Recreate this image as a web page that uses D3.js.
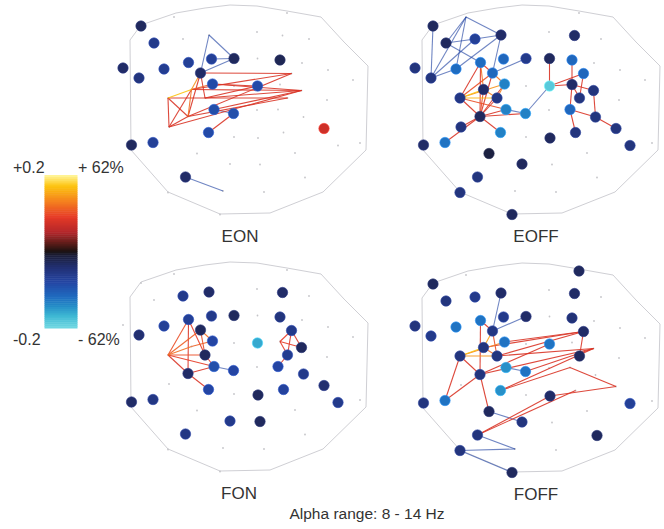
<!DOCTYPE html>
<html>
<head>
<meta charset="utf-8">
<script src="https://cdn.jsdelivr.net/npm/d3@7/dist/d3.min.js"></script>
<style>
  body { margin: 0; background: #fff; }
  text { font-family: "Liberation Sans", Arial, sans-serif; fill: #333; }
</style>
</head>
<body>
<div id="chart"></div>
<script>
// electrode positions on the sensor plane (id = index + 1)
let sensorX = [141, 154, 183, 209, 123, 139, 164, 188.5, 200.5, 211.5,
  234, 257.5, 282.5, 280, 212.5, 191.5, 168, 205, 214, 233.5,
  257.5, 280, 291.5, 301.5, 287.5, 278, 303.5, 324, 188, 169,
  208.5, 258, 283.5, 131.5, 153, 338, 197, 230, 185.5, 168,
  220, 260, 305, 287, 174, 223, 257, 309, 302, 328,
  353, 327, 257, 234, 360, 295, 264, 234];
let sensorY = [26, 43, 39, 35, 68, 78, 69, 62.5, 73, 59,
  58.5, 58.5, 35.5, 60, 84, 89.5, 98, 98, 109.5, 113.5,
  86, 84.5, 73.5, 90.5, 98, 109.5, 117, 128.5, 116.5, 127,
  132.5, 138, 132.5, 145, 142.5, 145.5, 153.5, 164, 177, 192.5,
  214.5, 164.5, 177.5, 13, 17, 191, 32, 39, 63, 70,
  80, 100, 110, 137, 143, 153, 192, 86];

// head outline
let outlineX = [130, 141, 176, 205, 230, 257, 287, 321, 344, 368, 366, 323, 270, 220, 168, 131];
let outlineY = [40, 25, 13, 8, 5, 6, 11, 17, 42, 66, 150, 192, 213, 214, 192, 150];

let panelNames = ["EON", "EOFF", "FON", "FOFF"];

// nodes : electrode ids and their value
let eonIds = [1, 2, 5, 6, 7, 8, 10, 11, 14, 9, 15, 21, 19, 20, 31, 34, 35, 39, 28];
let eonVals = [-0.03, -0.06, -0.035, -0.05, -0.065, -0.07, -0.07, -0.03, -0.025, -0.035,
  -0.085, -0.085, -0.09, -0.09, -0.085, -0.03, -0.07, -0.035, 0.07];

let eoffIds = [1, 2, 3, 4, 5, 6, 7, 8, 9, 10, 11, 12, 13, 14, 15, 16, 17, 18, 19, 20, 21,
  22, 23, 24, 25, 26, 27, 28, 29, 30, 31, 32, 33, 34, 35, 36, 37, 38, 39, 40, 41];
let eoffVals = [-0.03, -0.03, -0.07, -0.035, -0.05, -0.05, -0.12, -0.12, -0.115, -0.115,
  -0.06, -0.03, -0.035, -0.115, -0.135, -0.035, -0.055, -0.055, -0.135, -0.135,
  -0.185, -0.035, -0.115, -0.05, -0.05, -0.115, -0.05, -0.05, -0.03, -0.05,
  -0.135, -0.03, -0.05, -0.035, -0.125, -0.05, -0.015, -0.03, -0.05, -0.05, -0.03];

let fonIds = [3, 4, 13, 8, 10, 11, 14, 7, 6, 9, 15, 23, 21, 24, 18, 25, 19, 20, 26, 27,
  29, 28, 31, 32, 33, 34, 35, 36, 38, 42, 39];
let fonVals = [-0.06, -0.035, -0.035, -0.07, -0.06, -0.03, -0.05, -0.07, -0.04, -0.03,
  -0.08, -0.06, -0.16, -0.03, -0.03, -0.065, -0.09, -0.08, -0.08, -0.06,
  -0.035, -0.04, -0.08, -0.03, -0.075, -0.035, -0.055, -0.06, -0.06, -0.03, -0.055];

let foffIds = [1, 44, 2, 3, 4, 13, 5, 6, 7, 8, 10, 11, 14, 9, 15, 23, 21, 16, 17, 18,
  25, 19, 20, 29, 31, 32, 34, 35, 36, 37, 38, 43, 39, 40, 41];
let foffVals = [-0.03, -0.03, -0.05, -0.06, -0.035, -0.035, -0.05, -0.06, -0.125, -0.125,
  -0.06, -0.035, -0.045, -0.055, -0.125, -0.035, -0.125, -0.05, -0.05, -0.05,
  -0.03, -0.145, -0.125, -0.05, -0.145, -0.035, -0.05, -0.125, -0.07, -0.03,
  -0.05, -0.03, -0.05, -0.05, -0.03];

// links : [electrode a, electrode b, value]
let eonEdges = [[4, 11, -0.08], [4, 9, -0.08], [10, 11, -0.08], [9, 11, -0.08], [39, 46, -0.08], [19, 20, -0.08],
  [17, 16, 0.17], [17, 18, 0.08], [17, 30, 0.08], [17, 29, 0.08], [30, 16, 0.08], [30, 29, 0.08],
  [29, 16, 0.12], [29, 9, 0.08], [16, 9, 0.14], [18, 9, 0.08], [16, 23, 0.08], [16, 24, 0.08],
  [18, 24, 0.08], [29, 23, 0.08], [29, 25, 0.08], [30, 24, 0.08], [9, 23, 0.08], [15, 24, 0.08],
  [15, 21, 0.08], [18, 25, 0.08], [19, 24, 0.08], [31, 20, 0.08], [16, 15, 0.11], [18, 21, 0.08]];

let eoffEdges = [[45, 2, -0.08], [45, 6, -0.08], [45, 4, -0.08], [45, 7, -0.08], [1, 6, -0.08],
  [2, 3, -0.08], [2, 8, -0.08], [6, 7, -0.08], [7, 4, -0.08], [6, 3, -0.08], [3, 4, -0.08],
  [4, 9, -0.08], [9, 11, -0.08], [19, 20, -0.08], [20, 21, -0.08],
  [12, 21, 0.08], [21, 22, 0.08], [21, 23, 0.08], [14, 22, 0.08], [22, 26, 0.08], [22, 24, 0.08],
  [23, 25, 0.08], [22, 25, 0.08], [26, 27, 0.08], [24, 27, 0.08], [27, 28, 0.08], [33, 26, 0.08],
  [8, 16, 0.12], [8, 29, 0.08], [9, 29, 0.08], [15, 17, 0.14], [15, 29, 0.08], [16, 17, 0.17],
  [17, 18, 0.16], [17, 29, 0.08], [17, 19, 0.1], [18, 29, 0.08], [16, 18, 0.13], [29, 19, 0.08],
  [29, 20, 0.08], [29, 30, 0.08], [29, 35, 0.08], [29, 31, 0.08], [9, 15, 0.12], [8, 9, 0.09],
  [16, 29, 0.1], [8, 17, 0.08], [15, 18, 0.13], [9, 17, 0.1]];

let fonEdges = [[17, 8, 0.1], [17, 9, 0.11], [17, 16, 0.12], [17, 18, 0.1], [17, 29, 0.08], [17, 19, 0.09],
  [8, 29, 0.08], [8, 18, 0.09], [9, 15, 0.12], [9, 18, 0.1], [16, 15, 0.11], [18, 19, 0.09],
  [29, 31, 0.08], [29, 19, 0.08], [19, 20, -0.08],
  [22, 23, 0.09], [22, 25, 0.09], [22, 24, 0.09], [23, 25, 0.08], [25, 26, 0.08], [23, 24, 0.08]];

let foffEdges = [[4, 9, -0.08], [11, 9, -0.08], [37, 38, -0.08], [39, 46, -0.08], [40, 46, -0.08],
  [40, 41, -0.08], [19, 20, -0.08],
  [39, 32, 0.08], [39, 33, 0.08], [26, 28, 0.08], [32, 28, 0.08], [31, 26, 0.08], [16, 23, 0.08],
  [18, 23, 0.08], [29, 24, 0.08], [18, 24, 0.08], [20, 24, 0.08], [31, 24, 0.08], [29, 21, 0.08],
  [15, 23, 0.08], [17, 35, 0.08], [29, 35, 0.08], [29, 37, 0.08], [8, 9, 0.08], [8, 29, 0.08],
  [9, 18, 0.1], [16, 17, 0.17], [17, 18, 0.14], [15, 17, 0.13], [16, 18, 0.12], [17, 29, 0.08],
  [9, 16, 0.15], [23, 25, 0.08]];

// colormap
let cmapStops = [-0.2, -0.17, -0.14, -0.12, -0.08, -0.04, -0.01, 0, 0.02, 0.05, 0.09, 0.13, 0.17, 0.2];
let cmapColors = ["#72d8e2", "#3fbad4", "#2388c6", "#1f6cc0", "#2445a3", "#222f70", "#1b1e38",
  "#1a1210", "#5a1c18", "#b3262a", "#e63a26", "#f4801f", "#fdc20c", "#fff7a0"];

let width = 664, height = 529;
let panelShiftX = [0, 292, 0, 292];
let panelShiftY = [0, 0, 257, 258];
let labelX = [240, 536, 239, 536];
let labelY = [242, 242, 499, 500];

let panelIds = [eonIds, eoffIds, fonIds, foffIds];
let panelVals = [eonVals, eoffVals, fonVals, foffVals];
let panelEdges = [eonEdges, eoffEdges, fonEdges, foffEdges];

let color = d3.scaleLinear()
  .domain(cmapStops)
  .range(cmapColors)
  .clamp(true);

let svg = d3.select("#chart")
  .append("svg")
  .attr("width", width)
  .attr("height", height);

panelNames.forEach(function(name, p) {
  let x = d3.scaleLinear().domain([100, 400]).range([100 + panelShiftX[p], 400 + panelShiftX[p]]);
  let y = d3.scaleLinear().domain([0, 220]).range([panelShiftY[p], 220 + panelShiftY[p]]);
  let g = svg.append("g").attr("class", "panel");

  // contour de la tete
  let outline = outlineX.map(function(d, i) { return [x(d), y(outlineY[i])]; });
  g.append("path")
    .attr("d", d3.line().curve(d3.curveLinearClosed)(outline))
    .attr("fill", "none")
    .attr("stroke", "#cfcfd4")
    .attr("stroke-width", 1);

  // electrodes without a node
  let active = panelIds[p];
  let empty = d3.range(1, sensorX.length + 1).filter(function(id) { return active.indexOf(id) < 0; });
  g.append("g")
    .selectAll("circle")
    .data(empty)
    .enter()
    .append("circle")
    .attr("cx", function(d) { return x(sensorX[d - 1]); })
    .attr("cy", function(d) { return y(sensorY[d - 1]); })
    .attr("r", 0.9)
    .attr("fill", "#c4c4c8");

  // liens
  g.append("g")
    .selectAll("line")
    .data(panelEdges[p].slice().sort(function(a, b) { return Math.abs(a[2]) - Math.abs(b[2]); }))
    .enter()
    .append("line")
    .attr("x1", function(d) { return x(sensorX[d[0] - 1]); })
    .attr("y1", function(d) { return y(sensorY[d[0] - 1]); })
    .attr("x2", function(d) { return x(sensorX[d[1] - 1]); })
    .attr("y2", function(d) { return y(sensorY[d[1] - 1]); })
    .attr("stroke", function(d) { return color(d[2]); })
    .attr("stroke-opacity", function(d) { return d[2] < 0 ? 0.65 : 0.9; })
    .attr("stroke-width", 1.1);

  // noeuds
  g.append("g")
    .selectAll("circle")
    .data(active)
    .enter()
    .append("circle")
    .attr("cx", function(d) { return x(sensorX[d - 1]); })
    .attr("cy", function(d) { return y(sensorY[d - 1]); })
    .attr("r", 5.2)
    .attr("fill", function(d, i) { return color(panelVals[p][i]); })
    .attr("stroke", function(d, i) { return d3.color(color(panelVals[p][i])).brighter(0.7); })
    .attr("stroke-width", 0.6);

  g.append("text")
    .attr("x", labelX[p])
    .attr("y", labelY[p])
    .attr("text-anchor", "middle")
    .attr("font-size", 17)
    .text(name);
});

// colorbar
let cbY = d3.scaleLinear().domain([0.2, -0.2]).range([175, 328]);
let steps = d3.range(0, 80).map(function(i) { return 0.2 - i * 0.4 / 80; });
svg.append("g")
  .selectAll("rect")
  .data(steps)
  .enter()
  .append("rect")
  .attr("x", 44.5)
  .attr("y", function(d) { return cbY(d); })
  .attr("width", 33)
  .attr("height", cbY(0) - cbY(0.4 / 80) + 0.5)
  .attr("fill", function(d) { return color(d - 0.0025); });

svg.append("text").attr("x", 13).attr("y", 173).attr("font-size", 16).text("+0.2");
svg.append("text").attr("x", 78).attr("y", 173).attr("font-size", 16).text("+ 62%");
svg.append("text").attr("x", 13).attr("y", 345).attr("font-size", 16).text("-0.2");
svg.append("text").attr("x", 78).attr("y", 345).attr("font-size", 16).text("- 62%");

svg.append("text")
  .attr("x", 367)
  .attr("y", 519)
  .attr("text-anchor", "middle")
  .attr("font-size", 15.5)
  .text("Alpha range: 8 - 14 Hz");
</script>
</body>
</html>
